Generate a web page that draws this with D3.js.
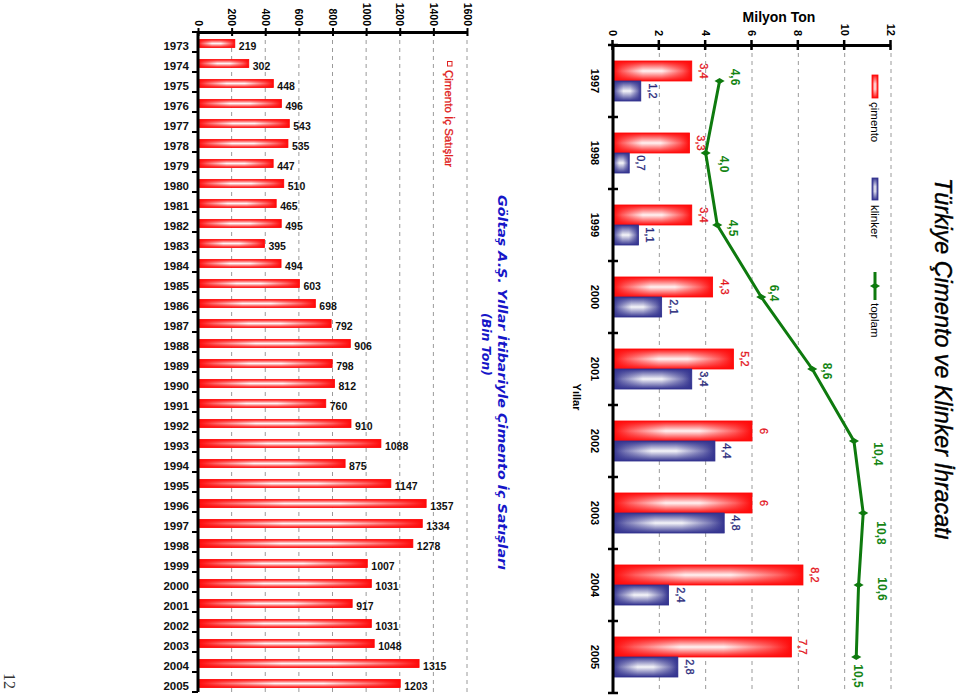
<!DOCTYPE html>
<html><head><meta charset="utf-8">
<script src="https://cdn.jsdelivr.net/npm/d3@7"></script>
<style>body{margin:0;background:#fff;} svg{display:block;}</style>
</head><body>
<svg id="chart" width="960" height="695"></svg>
<script>
// ---- Top chart data: Türkiye Çimento ve Klinker İhracatı (Milyon Ton)
const exportYears = ["1997","1998","1999","2000","2001","2002","2003","2004","2005"];
const cimentoExport = [3.4, 3.3, 3.4, 4.3, 5.2, 6, 6, 8.2, 7.7];
const klinkerExport = [1.2, 0.7, 1.1, 2.1, 3.4, 4.4, 4.8, 2.4, 2.8];
const toplamExport = [4.6, 4.0, 4.5, 6.4, 8.6, 10.4, 10.8, 10.6, 10.5];
const exportTicks = [0, 2, 4, 6, 8, 10, 12];
const exportLegend = ["çimento", "klinker", "toplam"];

// ---- Bottom chart data: Göltaş A.Ş. Çimento İç Satışları (Bin Ton)
const salesYears = ["1973","1974","1975","1976","1977","1978","1979","1980","1981","1982","1983",
  "1984","1985","1986","1987","1988","1989","1990","1991","1992","1993","1994","1995","1996",
  "1997","1998","1999","2000","2001","2002","2003","2004","2005"];
const salesValues = [219, 302, 448, 496, 543, 535, 447, 510, 465, 495, 395, 494, 603, 698, 792, 906,
  798, 812, 760, 910, 1088, 875, 1147, 1357, 1334, 1278, 1007, 1031, 917, 1031, 1048, 1315, 1203];
const salesTicks = [0, 200, 400, 600, 800, 1000, 1200, 1400, 1600];

// label nudges for the "toplam" values (layout only)
const toplamLabelNudge = [[-4,-15],[11,-18],[3,-16],[-4,-13],[2,-15],[13,-24],[20,-18],[4,-23],[19,-2]];

const SANS = "'Liberation Sans', Arial, sans-serif";
const RED = "#ff0a0a", BLUE = "#33338f", GREEN = "#0e7a0e";
const commaFmt = v => String(v).replace(".", ",");
const oneDec = v => d3.format(".1f")(v).replace(".", ",");

const svg = d3.select("#chart");
const defs = svg.append("defs");

function addBarGradients(id, color, lengthAlongX) {
  const lerp = d3.interpolateRgb(color, "#ffffff");
  const base = defs.append("linearGradient").attr("id", id + "Len")
    .attr("x1", 0).attr("y1", 0)
    .attr("x2", lengthAlongX ? 1 : 0).attr("y2", lengthAlongX ? 0 : 1);
  [[0, 0], [0.12, 0.35], [0.38, 0.95], [0.62, 0.95], [0.88, 0.35], [1, 0]].forEach(([o, t]) =>
    base.append("stop").attr("offset", o).attr("stop-color", lerp(t)));
  const across = defs.append("linearGradient").attr("id", id + "Across")
    .attr("x1", 0).attr("y1", 0)
    .attr("x2", lengthAlongX ? 0 : 1).attr("y2", lengthAlongX ? 1 : 0);
  [[0, 1], [0.22, 0.55], [0.5, 0], [0.78, 0.55], [1, 1]].forEach(([o, a]) =>
    across.append("stop").attr("offset", o).attr("stop-color", color).attr("stop-opacity", a));
}
addBarGradients("redV", RED, false);
addBarGradients("blueV", BLUE, false);
addBarGradients("redH", RED, true);
addBarGradients("blueH", BLUE, true);

function gradRect(sel, id, color) {
  sel.append("rect").attr("fill", `url(#${id}Len)`);
  sel.append("rect").attr("fill", `url(#${id}Across)`).attr("stroke", color).attr("stroke-width", 0.8);
  return sel.selectAll("rect");
}

// =================== TOP CHART (drawn in a rotated frame) ===================
const g = svg.append("g").attr("transform", "translate(960,0) rotate(90)");

const x = d3.scaleBand().domain(exportYears).range([45, 693]).paddingInner(0.444).paddingOuter(0.222);
const xSub = d3.scaleBand().domain(["c", "k"]).range([0, x.bandwidth()]);
const y = d3.scaleLinear().domain([0, 12]).range([347, 69]);

g.append("g").selectAll("line").data(exportTicks.slice(1)).join("line")
  .attr("x1", 45).attr("x2", 693).attr("y1", d => y(d)).attr("y2", d => y(d))
  .attr("stroke", "#9a9a9a").attr("stroke-width", 1).attr("stroke-dasharray", "4,4");

g.append("text").attr("x", 359).attr("y", 25).attr("text-anchor", "middle")
  .attr("font-family", SANS).attr("font-style", "italic").attr("font-size", 24).attr("fill", "#000")
  .attr("stroke", "#000").attr("stroke-width", 0.4)
  .attr("textLength", 362).attr("lengthAdjust", "spacingAndGlyphs")
  .text("Türkiye Çimento ve Klinker İhracatı");

const series = [
  { key: "c", vals: cimentoExport, grad: "redV", color: RED, label: "#e3141c" },
  { key: "k", vals: klinkerExport, grad: "blueV", color: BLUE, label: "#2b2b7c" }
];
series.forEach(s => {
  exportYears.forEach((yr, i) => {
    const v = s.vals[i];
    const bx = x(yr) + xSub(s.key), bw = xSub.bandwidth();
    gradRect(g.append("g"), s.grad, s.color)
      .attr("x", bx).attr("width", bw).attr("y", y(v)).attr("height", y(0) - y(v));
    g.append("text").attr("x", bx + bw / 2).attr("y", y(v) - 8).attr("text-anchor", "middle")
      .attr("font-family", SANS).attr("font-size", 11).attr("fill", s.label)
      .attr("stroke", s.label).attr("stroke-width", 0.3).text(commaFmt(v));
  });
});

const yAxis = g.append("g").attr("transform", "translate(45,0)")
  .call(d3.axisLeft(y).tickValues(exportTicks).tickSize(5).tickSizeOuter(0).tickPadding(4).tickFormat(d3.format("d")));
yAxis.select(".domain").attr("stroke", "#000").attr("stroke-width", 3);
yAxis.selectAll(".tick line").attr("x1", 5).attr("x2", -5).attr("stroke", "#000").attr("stroke-width", 2.5);
yAxis.selectAll(".tick text").attr("font-family", SANS).attr("font-weight", "bold").attr("font-size", 11).attr("fill", "#000");

const x0 = x.range()[0];
g.append("line").attr("x1", x0).attr("x2", x.range()[1]).attr("y1", y(0)).attr("y2", y(0))
  .attr("stroke", "#000").attr("stroke-width", 3);
g.append("g").selectAll("line").data(d3.range(exportYears.length + 1)).join("line")
  .attr("x1", i => x0 + i * x.step()).attr("x2", i => x0 + i * x.step())
  .attr("y1", y(0) - 5).attr("y2", y(0) + 5).attr("stroke", "#000").attr("stroke-width", 2.5);
g.append("g").selectAll("text").data(exportYears).join("text")
  .attr("x", d => x(d) + x.bandwidth() / 2).attr("y", y(0) + 22).attr("text-anchor", "middle")
  .attr("font-family", SANS).attr("font-weight", "bold").attr("font-size", 11).text(d => d);
g.append("text").attr("x", 397).attr("y", 387).attr("text-anchor", "middle")
  .attr("font-family", SANS).attr("font-weight", "bold").attr("font-size", 11).text("Yıllar");

const cx = (d) => x(d) + x.bandwidth() / 2;
g.append("path").datum(toplamExport)
  .attr("d", d3.line().x((d, i) => cx(exportYears[i])).y(d => y(d)))
  .attr("fill", "none").attr("stroke", GREEN).attr("stroke-width", 3);
g.append("g").selectAll("path").data(toplamExport).join("path")
  .attr("transform", (d, i) => `translate(${cx(exportYears[i])},${y(d)})`)
  .attr("d", d3.symbol().type(d3.symbolDiamond).size(30)).attr("fill", GREEN);
g.append("g").selectAll("text").data(toplamExport).join("text")
  .attr("x", (d, i) => cx(exportYears[i]) + toplamLabelNudge[i][0])
  .attr("y", (d, i) => y(d) + toplamLabelNudge[i][1])
  .attr("text-anchor", "middle").attr("dominant-baseline", "central")
  .attr("font-family", SANS).attr("font-weight", "bold").attr("font-size", 12).attr("fill", "#158515")
  .text(d => oneDec(d));

const lg = g.append("g");
gradRect(lg.append("g"), "redH", RED).attr("x", 75).attr("y", 82).attr("width", 23).attr("height", 6);
lg.append("text").attr("x", 102).attr("y", 89).attr("font-family", SANS).attr("font-size", 11.5).text(exportLegend[0]);
gradRect(lg.append("g"), "blueH", BLUE).attr("x", 178).attr("y", 82).attr("width", 22).attr("height", 6);
lg.append("text").attr("x", 205).attr("y", 89).attr("font-family", SANS).attr("font-size", 11.5).text(exportLegend[1]);
lg.append("line").attr("x1", 272).attr("x2", 300).attr("y1", 85).attr("y2", 85).attr("stroke", GREEN).attr("stroke-width", 3);
lg.append("path").attr("transform", "translate(286,85)").attr("d", d3.symbol().type(d3.symbolDiamond).size(30)).attr("fill", GREEN);
lg.append("text").attr("x", 303).attr("y", 89).attr("font-family", SANS).attr("font-size", 11.5).text(exportLegend[2]);

svg.append("text").attr("x", 779).attr("y", 22).attr("text-anchor", "middle")
  .attr("font-family", SANS).attr("font-weight", "bold").attr("font-size", 14).text("Milyon Ton");

// =================== BOTTOM CHART (screen frame) ===================
const sx = d3.scaleLinear().domain([0, 1600]).range([198, 467]);
const sy = d3.scaleBand().domain(salesYears).range([32, 692]).paddingInner(0.6).paddingOuter(0.3).align(0.625);
const b = svg.append("g");

b.append("g").selectAll("line").data(salesTicks.slice(1)).join("line")
  .attr("x1", d => sx(d)).attr("x2", d => sx(d)).attr("y1", 32).attr("y2", 692)
  .attr("stroke", "#9a9a9a").attr("stroke-width", 1).attr("stroke-dasharray", "4,4");

salesYears.forEach((yr, i) => {
  const v = salesValues[i];
  gradRect(b.append("g"), "redH", RED)
    .attr("x", sx(0)).attr("y", sy(yr)).attr("width", sx(v) - sx(0)).attr("height", sy.bandwidth());
});
b.append("g").selectAll("text").data(salesValues).join("text")
  .attr("x", d => sx(d) + 4).attr("y", (d, i) => sy(salesYears[i]) + 10)
  .attr("font-family", SANS).attr("font-weight", "bold").attr("font-size", 10.5).attr("fill", "#111")
  .text(d => d);

const sAxis = b.append("g").attr("transform", "translate(0,32)")
  .call(d3.axisTop(sx).tickValues(salesTicks).tickSize(4).tickSizeOuter(0).tickPadding(6).tickFormat(d3.format("d")));
sAxis.select(".domain").attr("stroke", "#000").attr("stroke-width", 3);
sAxis.selectAll(".tick line").attr("y1", 4).attr("y2", -4).attr("stroke", "#000").attr("stroke-width", 2);
sAxis.selectAll(".tick text")
  .attr("transform", "translate(0,-6) rotate(90)").attr("x", 0).attr("y", 0).attr("dy", null)
  .attr("text-anchor", "end").attr("dominant-baseline", "central")
  .attr("font-family", SANS).attr("font-weight", "bold").attr("font-size", 10.5).attr("fill", "#000");

const s0 = sy.range()[0];
b.append("line").attr("x1", sx(0)).attr("x2", sx(0)).attr("y1", 32).attr("y2", sy.range()[1])
  .attr("stroke", "#000").attr("stroke-width", 3);
b.append("g").selectAll("line").data(d3.range(salesYears.length + 1)).join("line")
  .attr("x1", sx(0) - 6).attr("x2", sx(0)).attr("y1", i => s0 + i * sy.step()).attr("y2", i => s0 + i * sy.step())
  .attr("stroke", "#000").attr("stroke-width", 2);
b.append("g").selectAll("text").data(salesYears).join("text")
  .attr("x", 189).attr("y", d => sy(d) + 10).attr("text-anchor", "end")
  .attr("font-family", SANS).attr("font-weight", "bold").attr("font-size", 11.5).attr("fill", "#111")
  .text(d => d);

b.append("rect").attr("x", 447.5).attr("y", 61.5).attr("width", 4.5).attr("height", 4.5)
  .attr("fill", "#fff").attr("stroke", "#e02020").attr("stroke-width", 1);
b.append("text").attr("transform", "translate(445,70) rotate(90)")
  .attr("font-family", SANS).attr("font-size", 11.5).attr("fill", "#e02020")
  .attr("stroke", "#e02020").attr("stroke-width", 0.3).text("Çimento İç Satışlar");

b.append("text").attr("transform", "translate(498,195) rotate(90)")
  .attr("font-family", "'DejaVu Sans', sans-serif").attr("font-weight", "bold").attr("font-style", "italic")
  .attr("font-size", 12.5).attr("fill", "#1616c8")
  .attr("textLength", 375).attr("lengthAdjust", "spacingAndGlyphs")
  .text("Göltaş A.Ş. Yıllar İtibariyle Çimento İç Satışları");
b.append("text").attr("transform", "translate(482,313) rotate(90)")
  .attr("font-family", "'DejaVu Sans', sans-serif").attr("font-weight", "bold").attr("font-style", "italic")
  .attr("font-size", 12.5).attr("fill", "#1616c8").text("(Bin Ton)");

svg.append("text").attr("transform", "translate(4,673) rotate(90)")
  .attr("font-family", "'Liberation Serif', serif").attr("font-size", 16).attr("fill", "#333").text("12");
</script>
</body></html>
